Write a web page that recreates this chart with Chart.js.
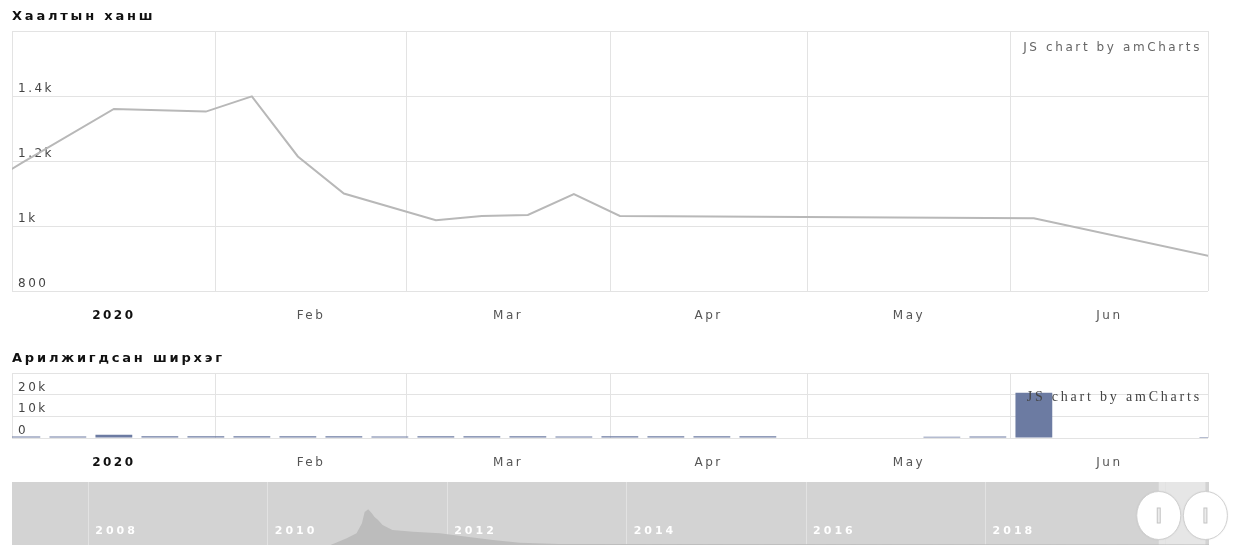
<!DOCTYPE html>
<html><head><meta charset="utf-8">
<script src="https://cdn.jsdelivr.net/npm/chart.js@4.4.1/dist/chart.umd.min.js"></script>
<style>
html,body{margin:0;padding:0;background:#fff;width:1234px;height:547px;overflow:hidden}
canvas{position:absolute;left:0}
#c1{top:0}
#c2{top:340px}
#c3{top:470px}
</style></head><body>
<canvas id="c1" width="1234" height="340"></canvas>
<canvas id="c2" width="1234" height="135"></canvas>
<canvas id="c3" width="1234" height="77"></canvas>
<script>
// ---------- data ----------
const priceTitle = 'Хаалтын ханш';
const volumeTitle = 'Арилжигдсан ширхэг';
const watermark = 'JS chart by amCharts';

const monthStarts = ['2020-01-01','2020-02-01','2020-03-01','2020-04-01','2020-05-01','2020-06-01','2020-07-01'];
const monthLabels = ['2020','Feb','Mar','Apr','May','Jun'];

// weekly grouped closing price (week starting Monday)
const priceWeeks  = ['2019-12-23','2019-12-30','2020-01-13','2020-01-27','2020-02-03','2020-02-10','2020-02-17','2020-03-02','2020-03-09','2020-03-16','2020-03-23','2020-03-30','2020-06-01','2020-06-29'];
const priceValues = [1110, 1194, 1360, 1352, 1399, 1214, 1100, 1018, 1031, 1034, 1098, 1031, 1024, 902];

// weekly traded volume
const volumeWeeks  = ['2019-12-30','2020-01-06','2020-01-13','2020-01-20','2020-01-27','2020-02-03','2020-02-10','2020-02-17','2020-02-24','2020-03-02','2020-03-09','2020-03-16','2020-03-23','2020-03-30','2020-04-06','2020-04-13','2020-04-20','2020-05-18','2020-05-25','2020-06-01','2020-06-29'];
const volumeValues = [700, 700, 1500, 800, 800, 800, 800, 800, 700, 800, 800, 800, 700, 800, 800, 800, 800, 600, 700, 20900, 500];

const priceTicks = [800, 1000, 1200, 1400, 1600];
const priceTickLabels = ['800', '1k', '1.2k', '1.4k', ''];
const volumeTicks = [0, 10000, 20000, 30000];
const volumeTickLabels = ['0', '10k', '20k', ''];

// navigator (scrollbar) overview
const navRange = [2007.15, 2020.49];
const navYearTicks = [2008, 2010, 2012, 2014, 2016, 2018, 2020];
const navYearLabels = ['2008', '2010', '2012', '2014', '2016', '2018', ''];
const navYears  = [2010.70, 2010.88, 2010.99, 2011.05, 2011.08, 2011.12, 2011.16, 2011.19, 2011.23, 2011.28, 2011.39, 2011.62, 2011.92, 2012.22, 2012.51, 2012.81, 2013.25, 2020.49];
const navValues = [0, 6.7, 11.7, 21.7, 33, 35.7, 31.7, 28, 25, 20, 15, 13.3, 11.7, 8.3, 5, 2.3, 1, 0.5];
const navSelection = [2019.93, 2020.45];

// ---------- helpers ----------
const FAM = "'DejaVu Sans', Verdana, sans-serif";
const GRID = '#e3e3e3';
const base = Date.parse('2020-01-01T00:00:00Z');
const dayOf = s => (Date.parse(s + 'T00:00:00Z') - base) / 864e5;
const weekCenter = s => dayOf(s) + 3.5;
const monthDays = monthStarts.map(dayOf);
const monthMid = monthLabels.map((_, i) => (monthDays[i] + monthDays[i + 1]) / 2);
const xMin = monthDays[0], xMax = monthDays[monthDays.length - 1];

const decor = {
  id: 'decor',
  beforeDraw(chart, args, o) {
    const ctx = chart.ctx, a = chart.chartArea;
    ctx.letterSpacing = (o.spacing || 0) + 'px';
    if (o.background) {
      ctx.save();
      ctx.fillStyle = o.background;
      ctx.fillRect(a.left, a.top, a.right - a.left, a.bottom - a.top);
      if (o.selection) {
        const xs = chart.scales.x;
        const x1 = xs.getPixelForValue(o.selection[0]), x2 = xs.getPixelForValue(o.selection[1]);
        ctx.fillStyle = '#e6e6e6';
        ctx.fillRect(x1, a.top, Math.min(x2, a.right) - x1, a.bottom - a.top);
      }
      ctx.restore();
    }
  },
  afterDatasetsDraw(chart, args, o) {
    if (!o.yearLabels) return;
    const ctx = chart.ctx, a = chart.chartArea, xs = chart.scales.x;
    ctx.save();
    ctx.letterSpacing = '3px';
    ctx.font = 'bold 11px ' + FAM;
    ctx.fillStyle = '#ffffff';
    ctx.textAlign = 'left';
    ctx.textBaseline = 'middle';
    o.yearTicks.forEach((v, i) => {
      if (o.yearLabels[i]) ctx.fillText(o.yearLabels[i], xs.getPixelForValue(v) + 7, a.bottom - 14);
    });
    ctx.restore();
  },
  afterDraw(chart, args, o) {
    const ctx = chart.ctx, a = chart.chartArea;
    if (o.title) {
      ctx.save();
      ctx.letterSpacing = '2.8px';
      ctx.font = 'bold 13px ' + FAM;
      ctx.fillStyle = '#111';
      ctx.textAlign = 'left';
      ctx.textBaseline = 'middle';
      ctx.fillText(o.title, 12, o.titleY);
      ctx.restore();
    }
    if (o.watermark) {
      ctx.save();
      ctx.letterSpacing = o.wmSpacing + 'px';
      ctx.font = o.wmFont;
      ctx.fillStyle = o.wmColor;
      ctx.textAlign = 'right';
      ctx.textBaseline = 'middle';
      ctx.fillText(o.watermark, a.right - 6, a.top + o.wmDy);
      ctx.restore();
    }
    if (o.selection) {
      const xs = chart.scales.x;
      const cy = (a.top + a.bottom) / 2 + 2;
      o.selection.forEach(v => {
        const cx = xs.getPixelForValue(v);
        ctx.save();
        ctx.beginPath();
        ctx.ellipse(cx, cy, 22, 24, 0, 0, Math.PI * 2);
        ctx.fillStyle = '#ffffff';
        ctx.shadowColor = 'rgba(0,0,0,0.12)';
        ctx.shadowBlur = 2;
        ctx.fill();
        ctx.shadowColor = 'transparent';
        ctx.strokeStyle = '#d0d0d0';
        ctx.lineWidth = 1;
        ctx.stroke();
        ctx.fillStyle = '#c4c4c4';
        ctx.fillRect(cx - 2, cy - 8, 4, 16);
        ctx.fillStyle = '#ececec';
        ctx.fillRect(cx - 1, cy - 7, 2, 14);
        ctx.restore();
      });
    }
  }
};

function xAxes(labelHeight) {
  return {
    x: {
      type: 'linear', position: 'bottom', min: xMin, max: xMax, offset: false,
      afterBuildTicks: s => { s.ticks = monthDays.map(v => ({ value: v })); },
      afterFit: s => { s.height = 0; },
      grid: { color: GRID, drawTicks: false, offset: false },
      border: { display: false },
      ticks: { display: false }
    },
    xl: {
      type: 'linear', position: 'bottom', min: xMin, max: xMax, offset: false,
      afterBuildTicks: s => { s.ticks = monthMid.map(v => ({ value: v })); },
      afterFit: s => { s.height = labelHeight; },
      grid: { display: false, drawTicks: false, offset: false },
      border: { display: false },
      ticks: {
        autoSkip: false, maxRotation: 0, padding: 18,
        callback: (v, i) => monthLabels[i],
        color: c => c.index === 0 ? '#111' : '#555',
        font: c => c.index === 0 ? { family: FAM, size: 12, weight: 'bold' } : { family: FAM, size: 12 }
      }
    }
  };
}

function yAxis(min, max, ticks, labels) {
  return {
    type: 'linear', position: 'left', min, max,
    afterBuildTicks: s => { s.ticks = ticks.map(v => ({ value: v })); },
    afterFit: s => { s.width = 0; },
    grid: { color: GRID, drawTicks: false },
    border: { display: false },
    ticks: {
      mirror: true, padding: 6, labelOffset: -7,
      callback: (v, i) => labels[i],
      color: '#444', font: { family: FAM, size: 12 }
    }
  };
}

const common = {
  responsive: false, animation: false, events: [],
  plugins: { legend: { display: false }, tooltip: { enabled: false } }
};

// ---------- price panel ----------
new Chart(document.getElementById('c1'), {
  type: 'line',
  data: {
    datasets: [{
      data: priceWeeks.map((w, i) => ({ x: weekCenter(w), y: priceValues[i] })),
      borderColor: '#b8b8b8', borderWidth: 2, pointRadius: 0, tension: 0, fill: false
    }]
  },
  options: {
    ...common,
    layout: { padding: { left: 12, right: 26, top: 31, bottom: 0 } },
    scales: { ...xAxes(49), y: yAxis(800, 1600, priceTicks, priceTickLabels) },
    plugins: {
      ...common.plugins,
      decor: { spacing: 2.5, title: priceTitle, titleY: 17,
        watermark: watermark, wmFont: '12px ' + FAM, wmColor: '#666', wmSpacing: 2.6, wmDy: 17 }
    }
  },
  plugins: [decor]
});

// ---------- volume panel ----------
new Chart(document.getElementById('c2'), {
  type: 'bar',
  data: {
    datasets: [{
      data: volumeWeeks.map((w, i) => ({ x: weekCenter(w), y: volumeValues[i] })),
      backgroundColor: '#6c7ba2', borderWidth: 0,
      barPercentage: 1, categoryPercentage: 0.8
    }]
  },
  options: {
    ...common,
    layout: { padding: { left: 12, right: 26, top: 33, bottom: 0 } },
    scales: { ...xAxes(37), y: yAxis(0, 30000, volumeTicks, volumeTickLabels) },
    plugins: {
      ...common.plugins,
      decor: { spacing: 2.5, title: volumeTitle, titleY: 19,
        watermark: watermark, wmFont: '14px "Liberation Serif", serif', wmColor: '#444', wmSpacing: 2.8, wmDy: 24 }
    }
  },
  plugins: [decor]
});

// ---------- navigator ----------
new Chart(document.getElementById('c3'), {
  type: 'line',
  data: {
    datasets: [{
      data: navYears.map((x, i) => ({ x, y: navValues[i] })),
      borderWidth: 0, borderColor: 'rgba(0,0,0,0)', backgroundColor: '#bcbcbc',
      pointRadius: 0, fill: 'origin', tension: 0
    }]
  },
  options: {
    ...common,
    layout: { padding: { left: 12, right: 25, top: 12, bottom: 2 } },
    scales: {
      x: {
        type: 'linear', position: 'bottom', min: navRange[0], max: navRange[1],
        afterBuildTicks: s => { s.ticks = navYearTicks.map(v => ({ value: v })); },
        afterFit: s => { s.height = 0; },
        grid: { color: '#e2e2e2', drawTicks: false },
        border: { display: false },
        ticks: { display: false }
      },
      y: { display: false, min: 0, max: 63 }
    },
    plugins: {
      ...common.plugins,
      decor: { spacing: 0, background: '#d3d3d3', selection: navSelection,
        yearTicks: navYearTicks, yearLabels: navYearLabels }
    }
  },
  plugins: [decor]
});
</script>
</body></html>
